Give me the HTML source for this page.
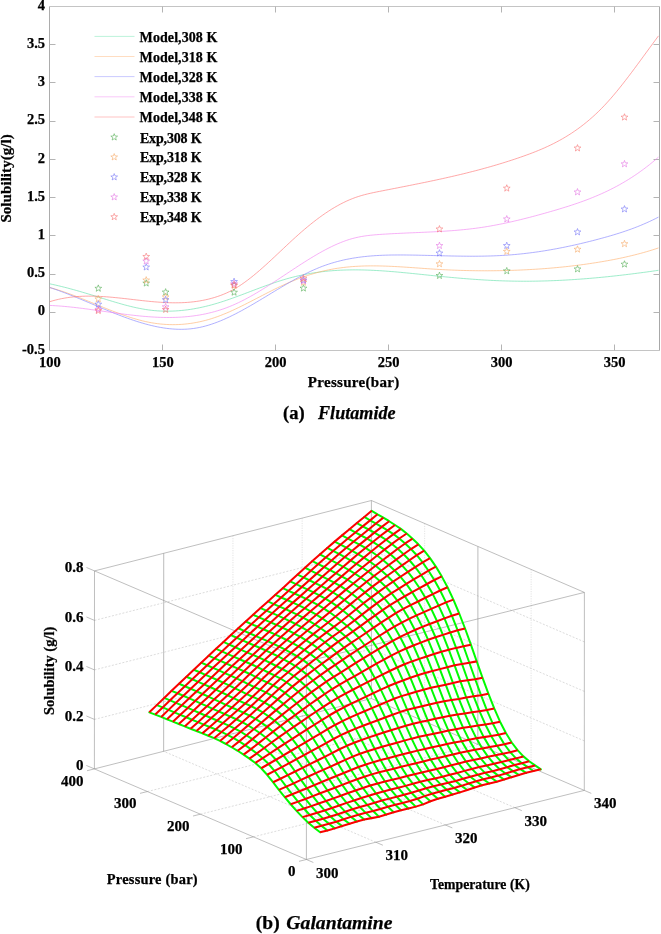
<!DOCTYPE html>
<html lang="en"><head><meta charset="utf-8"><title>Solubility of Flutamide and Galantamine</title>
<style>html,body{margin:0;padding:0;background:#fff}body{width:661px;height:934px;overflow:hidden}svg{display:block}text{font-kerning:normal;stroke:#000;stroke-width:0.25px;paint-order:stroke fill}</style></head><body>
<svg width="661" height="934" viewBox="0 0 661 934">
<rect width="661" height="934" fill="#fff"/>
<g id="panel-a">
<path d="M49.5 6.5H659.5" stroke="#c4c4c4" stroke-width="1" fill="none"/>
<path d="M49.5 350.5H659.5" stroke="#c4c4c4" stroke-width="1" fill="none"/>
<path d="M659.5 6.5V350.5" stroke="#a8a8a8" stroke-width="1" fill="none"/>
<path d="M49.5 6.5V350.5" stroke="#acacac" stroke-width="1" fill="none"/>
<path d="M162.5 350.5v-6M162.5 6.5v6M275.5 350.5v-6M275.5 6.5v6M388.5 350.5v-6M388.5 6.5v6M501.5 350.5v-6M501.5 6.5v6M614.5 350.5v-6M614.5 6.5v6M49.5 312.5h6M659.5 312.5h-6M49.5 274.5h6M659.5 274.5h-6M49.5 235.5h6M659.5 235.5h-6M49.5 197.5h6M659.5 197.5h-6M49.5 159.5h6M659.5 159.5h-6M49.5 121.5h6M659.5 121.5h-6M49.5 82.5h6M659.5 82.5h-6M49.5 44.5h6M659.5 44.5h-6" stroke="#b4b4b4" stroke-width="1" fill="none"/>
<g font-family='"Liberation Serif", "DejaVu Serif", serif' font-weight="bold" font-size="14.5" fill="#000">
<text x="49.8" y="367.2" text-anchor="middle">100</text>
<text x="162.76" y="367.2" text-anchor="middle">150</text>
<text x="275.73" y="367.2" text-anchor="middle">200</text>
<text x="388.69" y="367.2" text-anchor="middle">250</text>
<text x="501.65" y="367.2" text-anchor="middle">300</text>
<text x="614.61" y="367.2" text-anchor="middle">350</text>
<text x="45" y="353.7" text-anchor="end">-0.5</text>
<text x="45" y="315.48" text-anchor="end">0</text>
<text x="45" y="277.26" text-anchor="end">0.5</text>
<text x="45" y="239.03" text-anchor="end">1</text>
<text x="45" y="200.81" text-anchor="end">1.5</text>
<text x="45" y="162.59" text-anchor="end">2</text>
<text x="45" y="124.37" text-anchor="end">2.5</text>
<text x="45" y="86.14" text-anchor="end">3</text>
<text x="45" y="47.92" text-anchor="end">3.5</text>
<text x="45" y="9.7" text-anchor="end">4</text>
</g>
<text x="353.5" y="386.6" text-anchor="middle" font-family='"Liberation Serif", "DejaVu Serif", serif' font-weight="bold" font-size="15" textLength="91.5" lengthAdjust="spacing">Pressure(bar)</text>
<text transform="translate(11.4 178.4) rotate(-90)" text-anchor="middle" font-family='"Liberation Serif", "DejaVu Serif", serif' font-weight="bold" font-size="15" textLength="88.4" lengthAdjust="spacing">Solubility(g/l)</text>
<text x="283" y="418.8" font-family='"Liberation Serif", "DejaVu Serif", serif' font-weight="bold" font-size="18.6" xml:space="preserve">(a)<tspan x="318" font-style="italic" textLength="77.6" lengthAdjust="spacingAndGlyphs">Flutamide</tspan></text>
<clipPath id="clipA"><rect x="49.5" y="6.5" width="610.0" height="344.0"/></clipPath>
<g clip-path="url(#clipA)" fill="none" stroke-width="0.85" stroke-opacity="0.72">
<path d="M49.5 283.77L52.5 284.41L55.5 285.08L58.5 285.78L61.5 286.5L64.5 287.25L67.5 288.03L70.5 288.83L73.5 289.65L76.5 290.49L79.5 291.35L82.5 292.22L85.5 293.11L88.5 294.01L91.5 294.92L94.5 295.84L97.5 296.76L100.5 297.69L103.5 298.63L106.5 299.56L109.5 300.48L112.5 301.39L115.5 302.29L118.5 303.17L121.5 304.02L124.5 304.85L127.5 305.64L130.5 306.4L133.5 307.11L136.5 307.78L139.5 308.4L142.5 308.96L145.5 309.47L148.5 309.92L151.5 310.3L154.5 310.61L157.5 310.85L160.5 311.02L163.5 311.13L166.5 311.18L169.5 311.16L172.5 311.08L175.5 310.94L178.5 310.74L181.5 310.48L184.5 310.17L187.5 309.79L190.5 309.36L193.5 308.88L196.5 308.34L199.5 307.75L202.5 307.1L205.5 306.41L208.5 305.67L211.5 304.88L214.5 304.04L217.5 303.15L220.5 302.23L223.5 301.26L226.5 300.26L229.5 299.22L232.5 298.16L235.5 297.08L238.5 295.98L241.5 294.86L244.5 293.73L247.5 292.59L250.5 291.45L253.5 290.31L256.5 289.17L259.5 288.04L262.5 286.93L265.5 285.82L268.5 284.74L271.5 283.69L274.5 282.65L277.5 281.66L280.5 280.69L283.5 279.77L286.5 278.89L289.5 278.05L292.5 277.26L295.5 276.51L298.5 275.81L301.5 275.15L304.5 274.53L307.5 273.95L310.5 273.41L313.5 272.92L316.5 272.46L319.5 272.05L322.5 271.67L325.5 271.33L328.5 271.03L331.5 270.77L334.5 270.54L337.5 270.35L340.5 270.19L343.5 270.07L346.5 269.97L349.5 269.91L352.5 269.87L355.5 269.87L358.5 269.89L361.5 269.93L364.5 270L367.5 270.1L370.5 270.21L373.5 270.35L376.5 270.5L379.5 270.68L382.5 270.87L385.5 271.08L388.5 271.3L391.5 271.54L394.5 271.79L397.5 272.05L400.5 272.33L403.5 272.61L406.5 272.9L409.5 273.2L412.5 273.5L415.5 273.81L418.5 274.12L421.5 274.43L424.5 274.74L427.5 275.06L430.5 275.37L433.5 275.68L436.5 275.99L439.5 276.29L442.5 276.59L445.5 276.88L448.5 277.17L451.5 277.45L454.5 277.72L457.5 277.99L460.5 278.25L463.5 278.5L466.5 278.74L469.5 278.97L472.5 279.2L475.5 279.41L478.5 279.62L481.5 279.81L484.5 280L487.5 280.17L490.5 280.33L493.5 280.48L496.5 280.62L499.5 280.74L502.5 280.85L505.5 280.95L508.5 281.03L511.5 281.1L514.5 281.15L517.5 281.19L520.5 281.22L523.5 281.23L526.5 281.23L529.5 281.22L532.5 281.19L535.5 281.15L538.5 281.1L541.5 281.03L544.5 280.96L547.5 280.86L550.5 280.76L553.5 280.65L556.5 280.52L559.5 280.38L562.5 280.23L565.5 280.07L568.5 279.9L571.5 279.71L574.5 279.52L577.5 279.31L580.5 279.1L583.5 278.87L586.5 278.63L589.5 278.39L592.5 278.13L595.5 277.86L598.5 277.59L601.5 277.3L604.5 277.01L607.5 276.71L610.5 276.39L613.5 276.07L616.5 275.74L619.5 275.4L622.5 275.06L625.5 274.7L628.5 274.34L631.5 273.97L634.5 273.59L637.5 273.2L640.5 272.81L643.5 272.41L646.5 272L649.5 271.59L652.5 271.17L655.5 270.74L658.5 270.31" stroke="#5fe0a8"/>
<path d="M49.5 287.48L52.5 288.3L55.5 289.17L58.5 290.09L61.5 291.06L64.5 292.07L67.5 293.13L70.5 294.22L73.5 295.34L76.5 296.49L79.5 297.66L82.5 298.86L85.5 300.07L88.5 301.29L91.5 302.52L94.5 303.75L97.5 304.99L100.5 306.22L103.5 307.44L106.5 308.65L109.5 309.85L112.5 311.03L115.5 312.18L118.5 313.3L121.5 314.4L124.5 315.46L127.5 316.48L130.5 317.46L133.5 318.39L136.5 319.26L139.5 320.09L142.5 320.85L145.5 321.55L148.5 322.19L151.5 322.75L154.5 323.24L157.5 323.66L160.5 324L163.5 324.28L166.5 324.48L169.5 324.6L172.5 324.65L175.5 324.63L178.5 324.54L181.5 324.37L184.5 324.13L187.5 323.81L190.5 323.43L193.5 322.96L196.5 322.43L199.5 321.82L202.5 321.14L205.5 320.38L208.5 319.55L211.5 318.65L214.5 317.67L217.5 316.62L220.5 315.5L223.5 314.31L226.5 313.07L229.5 311.77L232.5 310.42L235.5 309.03L238.5 307.6L241.5 306.13L244.5 304.64L247.5 303.12L250.5 301.59L253.5 300.04L256.5 298.48L259.5 296.93L262.5 295.37L265.5 293.82L268.5 292.29L271.5 290.77L274.5 289.27L277.5 287.8L280.5 286.37L283.5 284.97L286.5 283.62L289.5 282.32L292.5 281.06L295.5 279.85L298.5 278.68L301.5 277.57L304.5 276.51L307.5 275.49L310.5 274.53L313.5 273.62L316.5 272.77L319.5 271.96L322.5 271.21L325.5 270.52L328.5 269.88L331.5 269.3L334.5 268.76L337.5 268.28L340.5 267.86L343.5 267.47L346.5 267.14L349.5 266.85L352.5 266.6L355.5 266.39L358.5 266.22L361.5 266.08L364.5 265.98L367.5 265.92L370.5 265.88L373.5 265.88L376.5 265.9L379.5 265.94L382.5 266.02L385.5 266.11L388.5 266.22L391.5 266.35L394.5 266.5L397.5 266.67L400.5 266.84L403.5 267.03L406.5 267.22L409.5 267.43L412.5 267.64L415.5 267.85L418.5 268.06L421.5 268.28L424.5 268.49L427.5 268.7L430.5 268.9L433.5 269.1L436.5 269.28L439.5 269.46L442.5 269.62L445.5 269.77L448.5 269.92L451.5 270.05L454.5 270.17L457.5 270.28L460.5 270.38L463.5 270.46L466.5 270.54L469.5 270.61L472.5 270.66L475.5 270.71L478.5 270.74L481.5 270.76L484.5 270.77L487.5 270.77L490.5 270.76L493.5 270.74L496.5 270.7L499.5 270.66L502.5 270.6L505.5 270.54L508.5 270.46L511.5 270.37L514.5 270.27L517.5 270.16L520.5 270.04L523.5 269.9L526.5 269.75L529.5 269.59L532.5 269.42L535.5 269.24L538.5 269.04L541.5 268.83L544.5 268.61L547.5 268.38L550.5 268.13L553.5 267.87L556.5 267.59L559.5 267.31L562.5 267L565.5 266.69L568.5 266.36L571.5 266.01L574.5 265.65L577.5 265.28L580.5 264.89L583.5 264.49L586.5 264.07L589.5 263.63L592.5 263.18L595.5 262.72L598.5 262.24L601.5 261.74L604.5 261.23L607.5 260.7L610.5 260.15L613.5 259.58L616.5 258.99L619.5 258.38L622.5 257.74L625.5 257.08L628.5 256.39L631.5 255.68L634.5 254.94L637.5 254.18L640.5 253.38L643.5 252.55L646.5 251.69L649.5 250.8L652.5 249.87L655.5 248.91L658.5 247.91" stroke="#ffae6b"/>
<path d="M49.5 287.42L52.5 288.41L55.5 289.44L58.5 290.51L61.5 291.61L64.5 292.73L67.5 293.89L70.5 295.07L73.5 296.27L76.5 297.49L79.5 298.72L82.5 299.97L85.5 301.23L88.5 302.49L91.5 303.76L94.5 305.03L97.5 306.29L100.5 307.56L103.5 308.81L106.5 310.06L109.5 311.29L112.5 312.5L115.5 313.7L118.5 314.87L121.5 316.02L124.5 317.15L127.5 318.24L130.5 319.3L133.5 320.32L136.5 321.3L139.5 322.25L142.5 323.14L145.5 323.99L148.5 324.79L151.5 325.54L154.5 326.23L157.5 326.86L160.5 327.42L163.5 327.92L166.5 328.35L169.5 328.7L172.5 328.98L175.5 329.18L178.5 329.29L181.5 329.32L184.5 329.26L187.5 329.1L190.5 328.84L193.5 328.48L196.5 328.02L199.5 327.46L202.5 326.78L205.5 326.02L208.5 325.15L211.5 324.2L214.5 323.16L217.5 322.04L220.5 320.85L223.5 319.58L226.5 318.24L229.5 316.85L232.5 315.39L235.5 313.88L238.5 312.32L241.5 310.71L244.5 309.06L247.5 307.38L250.5 305.66L253.5 303.92L256.5 302.15L259.5 300.36L262.5 298.56L265.5 296.75L268.5 294.93L271.5 293.12L274.5 291.3L277.5 289.49L280.5 287.7L283.5 285.92L286.5 284.16L289.5 282.42L292.5 280.72L295.5 279.05L298.5 277.42L301.5 275.83L304.5 274.29L307.5 272.8L310.5 271.37L313.5 269.99L316.5 268.69L319.5 267.45L322.5 266.28L325.5 265.19L328.5 264.17L331.5 263.21L334.5 262.33L337.5 261.5L340.5 260.74L343.5 260.03L346.5 259.39L349.5 258.8L352.5 258.26L355.5 257.77L358.5 257.33L361.5 256.93L364.5 256.58L367.5 256.27L370.5 256L373.5 255.77L376.5 255.57L379.5 255.41L382.5 255.27L385.5 255.16L388.5 255.08L391.5 255.02L394.5 254.99L397.5 254.97L400.5 254.97L403.5 254.98L406.5 255.01L409.5 255.05L412.5 255.09L415.5 255.14L418.5 255.2L421.5 255.27L424.5 255.34L427.5 255.41L430.5 255.48L433.5 255.56L436.5 255.63L439.5 255.71L442.5 255.78L445.5 255.85L448.5 255.92L451.5 255.99L454.5 256.04L457.5 256.1L460.5 256.14L463.5 256.18L466.5 256.2L469.5 256.22L472.5 256.22L475.5 256.22L478.5 256.2L481.5 256.16L484.5 256.11L487.5 256.04L490.5 255.96L493.5 255.86L496.5 255.74L499.5 255.6L502.5 255.43L505.5 255.25L508.5 255.04L511.5 254.81L514.5 254.56L517.5 254.28L520.5 253.98L523.5 253.66L526.5 253.31L529.5 252.95L532.5 252.56L535.5 252.15L538.5 251.72L541.5 251.27L544.5 250.8L547.5 250.3L550.5 249.79L553.5 249.26L556.5 248.71L559.5 248.14L562.5 247.55L565.5 246.94L568.5 246.31L571.5 245.67L574.5 245.01L577.5 244.33L580.5 243.64L583.5 242.92L586.5 242.19L589.5 241.45L592.5 240.69L595.5 239.91L598.5 239.12L601.5 238.31L604.5 237.49L607.5 236.65L610.5 235.78L613.5 234.9L616.5 233.98L619.5 233.04L622.5 232.07L625.5 231.06L628.5 230.02L631.5 228.94L634.5 227.82L637.5 226.65L640.5 225.44L643.5 224.18L646.5 222.87L649.5 221.51L652.5 220.09L655.5 218.61L658.5 217.07" stroke="#7f7fff"/>
<path d="M49.5 305.42L52.5 305.56L55.5 305.74L58.5 305.94L61.5 306.17L64.5 306.43L67.5 306.71L70.5 307.01L73.5 307.34L76.5 307.68L79.5 308.04L82.5 308.42L85.5 308.8L88.5 309.2L91.5 309.61L94.5 310.03L97.5 310.45L100.5 310.88L103.5 311.31L106.5 311.73L109.5 312.16L112.5 312.58L115.5 313L118.5 313.41L121.5 313.81L124.5 314.21L127.5 314.58L130.5 314.95L133.5 315.29L136.5 315.62L139.5 315.93L142.5 316.22L145.5 316.48L148.5 316.71L151.5 316.92L154.5 317.1L157.5 317.25L160.5 317.37L163.5 317.45L166.5 317.49L169.5 317.49L172.5 317.46L175.5 317.38L178.5 317.25L181.5 317.09L184.5 316.87L187.5 316.6L190.5 316.28L193.5 315.91L196.5 315.48L199.5 315L202.5 314.45L205.5 313.85L208.5 313.18L211.5 312.45L214.5 311.65L217.5 310.78L220.5 309.84L223.5 308.83L226.5 307.75L229.5 306.59L232.5 305.35L235.5 304.03L238.5 302.64L241.5 301.18L244.5 299.65L247.5 298.06L250.5 296.41L253.5 294.71L256.5 292.97L259.5 291.17L262.5 289.34L265.5 287.47L268.5 285.57L271.5 283.65L274.5 281.7L277.5 279.74L280.5 277.76L283.5 275.78L286.5 273.79L289.5 271.81L292.5 269.82L295.5 267.85L298.5 265.89L301.5 263.95L304.5 262.04L307.5 260.15L310.5 258.29L313.5 256.48L316.5 254.7L319.5 252.97L322.5 251.3L325.5 249.68L328.5 248.13L331.5 246.64L334.5 245.22L337.5 243.89L340.5 242.63L343.5 241.46L346.5 240.38L349.5 239.4L352.5 238.52L355.5 237.75L358.5 237.08L361.5 236.51L364.5 236.02L367.5 235.6L370.5 235.25L373.5 234.96L376.5 234.7L379.5 234.48L382.5 234.27L385.5 234.09L388.5 233.91L391.5 233.74L394.5 233.59L397.5 233.44L400.5 233.3L403.5 233.16L406.5 233.03L409.5 232.9L412.5 232.77L415.5 232.64L418.5 232.52L421.5 232.39L424.5 232.25L427.5 232.12L430.5 231.97L433.5 231.82L436.5 231.67L439.5 231.5L442.5 231.32L445.5 231.13L448.5 230.92L451.5 230.71L454.5 230.47L457.5 230.22L460.5 229.95L463.5 229.66L466.5 229.35L469.5 229.02L472.5 228.66L475.5 228.29L478.5 227.88L481.5 227.45L484.5 226.99L487.5 226.5L490.5 225.99L493.5 225.45L496.5 224.89L499.5 224.31L502.5 223.7L505.5 223.07L508.5 222.42L511.5 221.75L514.5 221.06L517.5 220.36L520.5 219.63L523.5 218.89L526.5 218.13L529.5 217.36L532.5 216.57L535.5 215.77L538.5 214.95L541.5 214.13L544.5 213.29L547.5 212.44L550.5 211.58L553.5 210.71L556.5 209.84L559.5 208.94L562.5 208.03L565.5 207.1L568.5 206.16L571.5 205.18L574.5 204.19L577.5 203.17L580.5 202.11L583.5 201.03L586.5 199.91L589.5 198.75L592.5 197.56L595.5 196.33L598.5 195.05L601.5 193.73L604.5 192.36L607.5 190.94L610.5 189.47L613.5 187.95L616.5 186.37L619.5 184.73L622.5 183.03L625.5 181.27L628.5 179.44L631.5 177.54L634.5 175.58L637.5 173.54L640.5 171.43L643.5 169.25L646.5 166.98L649.5 164.64L652.5 162.21L655.5 159.69L658.5 157.09" stroke="#f27ff2"/>
<path d="M49.5 301.76L52.5 300.86L55.5 300.05L58.5 299.32L61.5 298.68L64.5 298.13L67.5 297.64L70.5 297.23L73.5 296.9L76.5 296.62L79.5 296.41L82.5 296.27L85.5 296.17L88.5 296.13L91.5 296.14L94.5 296.2L97.5 296.3L100.5 296.44L103.5 296.61L106.5 296.82L109.5 297.06L112.5 297.32L115.5 297.61L118.5 297.91L121.5 298.23L124.5 298.56L127.5 298.9L130.5 299.25L133.5 299.6L136.5 299.95L139.5 300.29L142.5 300.63L145.5 300.95L148.5 301.26L151.5 301.55L154.5 301.82L157.5 302.06L160.5 302.28L163.5 302.46L166.5 302.61L169.5 302.72L172.5 302.79L175.5 302.81L178.5 302.78L181.5 302.71L184.5 302.57L187.5 302.38L190.5 302.12L193.5 301.81L196.5 301.42L199.5 300.96L202.5 300.42L205.5 299.81L208.5 299.12L211.5 298.34L214.5 297.47L217.5 296.51L220.5 295.46L223.5 294.29L226.5 293L229.5 291.59L232.5 290.04L235.5 288.34L238.5 286.5L241.5 284.52L244.5 282.43L247.5 280.23L250.5 277.92L253.5 275.52L256.5 273.03L259.5 270.47L262.5 267.84L265.5 265.16L268.5 262.43L271.5 259.66L274.5 256.86L277.5 254.04L280.5 251.21L283.5 248.38L286.5 245.56L289.5 242.76L292.5 239.98L295.5 237.24L298.5 234.54L301.5 231.9L304.5 229.32L307.5 226.8L310.5 224.35L313.5 221.97L316.5 219.65L319.5 217.42L322.5 215.26L325.5 213.18L328.5 211.19L331.5 209.28L334.5 207.46L337.5 205.73L340.5 204.1L343.5 202.57L346.5 201.13L349.5 199.8L352.5 198.58L355.5 197.46L358.5 196.46L361.5 195.54L364.5 194.71L367.5 193.95L370.5 193.25L373.5 192.59L376.5 191.97L379.5 191.38L382.5 190.79L385.5 190.2L388.5 189.61L391.5 189.03L394.5 188.44L397.5 187.85L400.5 187.26L403.5 186.67L406.5 186.08L409.5 185.48L412.5 184.88L415.5 184.28L418.5 183.67L421.5 183.06L424.5 182.45L427.5 181.82L430.5 181.2L433.5 180.56L436.5 179.92L439.5 179.27L442.5 178.61L445.5 177.95L448.5 177.27L451.5 176.59L454.5 175.89L457.5 175.19L460.5 174.47L463.5 173.75L466.5 173.01L469.5 172.26L472.5 171.49L475.5 170.72L478.5 169.93L481.5 169.13L484.5 168.31L487.5 167.47L490.5 166.62L493.5 165.76L496.5 164.88L499.5 163.98L502.5 163.07L505.5 162.13L508.5 161.18L511.5 160.21L514.5 159.22L517.5 158.21L520.5 157.18L523.5 156.13L526.5 155.05L529.5 153.95L532.5 152.81L535.5 151.63L538.5 150.42L541.5 149.16L544.5 147.85L547.5 146.48L550.5 145.07L553.5 143.59L556.5 142.04L559.5 140.43L562.5 138.74L565.5 136.98L568.5 135.14L571.5 133.22L574.5 131.2L577.5 129.1L580.5 126.9L583.5 124.6L586.5 122.19L589.5 119.68L592.5 117.06L595.5 114.32L598.5 111.46L601.5 108.47L604.5 105.36L607.5 102.12L610.5 98.76L613.5 95.28L616.5 91.69L619.5 88.01L622.5 84.24L625.5 80.4L628.5 76.49L631.5 72.52L634.5 68.51L637.5 64.45L640.5 60.38L643.5 56.28L646.5 52.17L649.5 48.07L652.5 43.98L655.5 39.91L658.5 35.87" stroke="#ff7070"/>
</g>
<g fill="none" stroke-width="0.7" stroke-opacity="0.78" stroke-linejoin="miter">
<path d="M98.3 284.88L99.18 287.22L101.68 287.33L99.72 288.89L100.39 291.3L98.3 289.92L96.21 291.3L96.88 288.89L94.92 287.33L97.42 287.22ZM146.2 279.68L147.07 282.02L149.57 282.13L147.61 283.69L148.28 286.1L146.2 284.72L144.11 286.1L144.78 283.69L142.82 282.13L145.32 282.02ZM165.63 288.62L166.5 290.97L169 291.08L167.04 292.63L167.71 295.04L165.63 293.66L163.54 295.04L164.21 292.63L162.25 291.08L164.75 290.97ZM234.08 288.85L234.96 291.2L237.46 291.31L235.5 292.86L236.17 295.27L234.08 293.89L231.99 295.27L232.66 292.86L230.71 291.31L233.21 291.2ZM303.44 284.72L304.32 287.07L306.82 287.18L304.86 288.73L305.53 291.15L303.44 289.77L301.35 291.15L302.02 288.73L300.06 287.18L302.56 287.07ZM439.45 272.11L440.32 274.45L442.82 274.56L440.87 276.12L441.53 278.53L439.45 277.15L437.36 278.53L438.03 276.12L436.07 274.56L438.57 274.45ZM506.77 267.45L507.65 269.79L510.15 269.9L508.19 271.46L508.86 273.87L506.77 272.49L504.69 273.87L505.36 271.46L503.4 269.9L505.9 269.79ZM577.49 265.54L578.37 267.88L580.87 267.99L578.91 269.55L579.58 271.96L577.49 270.58L575.4 271.96L576.07 269.55L574.11 267.99L576.61 267.88ZM624.48 260.72L625.36 263.06L627.86 263.17L625.9 264.73L626.57 267.14L624.48 265.76L622.39 267.14L623.06 264.73L621.11 263.17L623.61 263.06Z" stroke="#4aa84a"/>
<path d="M98.3 295.43L99.18 297.77L101.68 297.88L99.72 299.44L100.39 301.85L98.3 300.47L96.21 301.85L96.88 299.44L94.92 297.88L97.42 297.77ZM146.2 276.62L147.07 278.96L149.57 279.07L147.61 280.63L148.28 283.04L146.2 281.66L144.11 283.04L144.78 280.63L142.82 279.07L145.32 278.96ZM165.63 293.44L166.5 295.78L169 295.89L167.04 297.45L167.71 299.86L165.63 298.48L163.54 299.86L164.21 297.45L162.25 295.89L164.75 295.78ZM234.08 281.97L234.96 284.32L237.46 284.43L235.5 285.98L236.17 288.39L234.08 287.01L231.99 288.39L232.66 285.98L230.71 284.43L233.21 284.32ZM303.44 278.91L304.32 281.26L306.82 281.37L304.86 282.93L305.53 285.34L303.44 283.96L301.35 285.34L302.02 282.93L300.06 281.37L302.56 281.26ZM439.45 260.41L440.32 262.76L442.82 262.87L440.87 264.43L441.53 266.84L439.45 265.46L437.36 266.84L438.03 264.43L436.07 262.87L438.57 262.76ZM506.77 247.95L507.65 250.3L510.15 250.41L508.19 251.97L508.86 254.38L506.77 253L504.69 254.38L505.36 251.97L503.4 250.41L505.9 250.3ZM577.49 245.81L578.37 248.16L580.87 248.27L578.91 249.82L579.58 252.24L577.49 250.86L575.4 252.24L576.07 249.82L574.11 248.27L576.61 248.16ZM624.48 240.31L625.36 242.65L627.86 242.76L625.9 244.32L626.57 246.73L624.48 245.35L622.39 246.73L623.06 244.32L621.11 242.76L623.61 242.65Z" stroke="#f5a35c"/>
<path d="M98.3 300.78L99.18 303.12L101.68 303.23L99.72 304.79L100.39 307.2L98.3 305.82L96.21 307.2L96.88 304.79L94.92 303.23L97.42 303.12ZM146.2 263.63L147.07 265.97L149.57 266.08L147.61 267.64L148.28 270.05L146.2 268.67L144.11 270.05L144.78 267.64L142.82 266.08L145.32 265.97ZM165.63 296.27L166.5 298.61L169 298.72L167.04 300.28L167.71 302.69L165.63 301.31L163.54 302.69L164.21 300.28L162.25 298.72L164.75 298.61ZM234.08 278.15L234.96 280.49L237.46 280.6L235.5 282.16L236.17 284.57L234.08 283.19L231.99 284.57L232.66 282.16L230.71 280.6L233.21 280.49ZM303.44 276.62L304.32 278.96L306.82 279.07L304.86 280.63L305.53 283.04L303.44 281.66L301.35 283.04L302.02 280.63L300.06 279.07L302.56 278.96ZM439.45 249.64L440.32 251.98L442.82 252.09L440.87 253.65L441.53 256.06L439.45 254.68L437.36 256.06L438.03 253.65L436.07 252.09L438.57 251.98ZM506.77 242.14L507.65 244.49L510.15 244.6L508.19 246.16L508.86 248.57L506.77 247.19L504.69 248.57L505.36 246.16L503.4 244.6L505.9 244.49ZM577.49 228.54L578.37 230.88L580.87 230.99L578.91 232.55L579.58 234.96L577.49 233.58L575.4 234.96L576.07 232.55L574.11 230.99L576.61 230.88ZM624.48 205.6L625.36 207.95L627.86 208.06L625.9 209.61L626.57 212.03L624.48 210.65L622.39 212.03L623.06 209.61L621.11 208.06L623.61 207.95Z" stroke="#6c6cf5"/>
<path d="M98.3 306.05L99.18 308.4L101.68 308.51L99.72 310.06L100.39 312.47L98.3 311.09L96.21 312.47L96.88 310.06L94.92 308.51L97.42 308.4ZM146.2 257.66L147.07 260.01L149.57 260.12L147.61 261.67L148.28 264.08L146.2 262.7L144.11 264.08L144.78 261.67L142.82 260.12L145.32 260.01ZM165.63 303.38L166.5 305.72L169 305.83L167.04 307.39L167.71 309.8L165.63 308.42L163.54 309.8L164.21 307.39L162.25 305.83L164.75 305.72ZM234.08 280.29L234.96 282.63L237.46 282.74L235.5 284.3L236.17 286.71L234.08 285.33L231.99 286.71L232.66 284.3L230.71 282.74L233.21 282.63ZM303.44 277.39L304.32 279.73L306.82 279.84L304.86 281.4L305.53 283.81L303.44 282.43L301.35 283.81L302.02 281.4L300.06 279.84L302.56 279.73ZM439.45 242.14L440.32 244.49L442.82 244.6L440.87 246.16L441.53 248.57L439.45 247.19L437.36 248.57L438.03 246.16L436.07 244.6L438.57 244.49ZM506.77 215.54L507.65 217.89L510.15 217.99L508.19 219.55L508.86 221.96L506.77 220.58L504.69 221.96L505.36 219.55L503.4 217.99L505.9 217.89ZM577.49 188.56L578.37 190.9L580.87 191.01L578.91 192.57L579.58 194.98L577.49 193.6L575.4 194.98L576.07 192.57L574.11 191.01L576.61 190.9ZM624.48 160.43L625.36 162.77L627.86 162.88L625.9 164.44L626.57 166.85L624.48 165.47L622.39 166.85L623.06 164.44L621.11 162.88L623.61 162.77Z" stroke="#e26ae2"/>
<path d="M98.3 307.2L99.18 309.54L101.68 309.65L99.72 311.21L100.39 313.62L98.3 312.24L96.21 313.62L96.88 311.21L94.92 309.65L97.42 309.54ZM146.2 253.08L147.07 255.42L149.57 255.53L147.61 257.09L148.28 259.5L146.2 258.12L144.11 259.5L144.78 257.09L142.82 255.53L145.32 255.42ZM165.63 306.05L166.5 308.4L169 308.51L167.04 310.06L167.71 312.47L165.63 311.09L163.54 312.47L164.21 310.06L162.25 308.51L164.75 308.4ZM234.08 281.59L234.96 283.93L237.46 284.04L235.5 285.6L236.17 288.01L234.08 286.63L231.99 288.01L232.66 285.6L230.71 284.04L233.21 283.93ZM303.44 274.71L304.32 277.05L306.82 277.16L304.86 278.72L305.53 281.13L303.44 279.75L301.35 281.13L302.02 278.72L300.06 277.16L302.56 277.05ZM439.45 225.56L440.32 227.9L442.82 228.01L440.87 229.57L441.53 231.98L439.45 230.6L437.36 231.98L438.03 229.57L436.07 228.01L438.57 227.9ZM506.77 184.73L507.65 187.08L510.15 187.19L508.19 188.75L508.86 191.16L506.77 189.78L504.69 191.16L505.36 188.75L503.4 187.19L505.9 187.08ZM577.49 144.6L578.37 146.95L580.87 147.05L578.91 148.61L579.58 151.02L577.49 149.64L575.4 151.02L576.07 148.61L574.11 147.05L576.61 146.95ZM624.48 113.72L625.36 116.06L627.86 116.17L625.9 117.73L626.57 120.14L624.48 118.76L622.39 120.14L623.06 117.73L621.11 116.17L623.61 116.06Z" stroke="#f56a6a"/>
</g>
<g fill="none" stroke-width="1" stroke-opacity="0.42">
<path d="M94.5 36.4H134.5" stroke="#5fe0a8"/>
<path d="M94.5 56.5H134.5" stroke="#ffae6b"/>
<path d="M94.5 76.6H134.5" stroke="#7f7fff"/>
<path d="M94.5 96.8H134.5" stroke="#f27ff2"/>
<path d="M94.5 117.0H134.5" stroke="#ff7070"/>
</g>
<g fill="none" stroke-width="0.7" stroke-opacity="0.78">
<path d="M114.2 133.65L115.08 135.99L117.58 136.1L115.62 137.66L116.29 140.07L114.2 138.69L112.11 140.07L112.78 137.66L110.82 136.1L113.32 135.99Z" stroke="#4aa84a"/>
<path d="M114.2 153.55L115.08 155.89L117.58 156L115.62 157.56L116.29 159.97L114.2 158.59L112.11 159.97L112.78 157.56L110.82 156L113.32 155.89Z" stroke="#f5a35c"/>
<path d="M114.2 173.55L115.08 175.89L117.58 176L115.62 177.56L116.29 179.97L114.2 178.59L112.11 179.97L112.78 177.56L110.82 176L113.32 175.89Z" stroke="#6c6cf5"/>
<path d="M114.2 193.55L115.08 195.89L117.58 196L115.62 197.56L116.29 199.97L114.2 198.59L112.11 199.97L112.78 197.56L110.82 196L113.32 195.89Z" stroke="#e26ae2"/>
<path d="M114.2 213.35L115.08 215.69L117.58 215.8L115.62 217.36L116.29 219.77L114.2 218.39L112.11 219.77L112.78 217.36L110.82 215.8L113.32 215.69Z" stroke="#f56a6a"/>
</g>
<g font-family='"Liberation Serif", "DejaVu Serif", serif' font-weight="bold" font-size="14" fill="#000">
<text x="139.6" y="41.7" textLength="77.8" lengthAdjust="spacing">Model,308 K</text>
<text x="139.6" y="61.8" textLength="77.8" lengthAdjust="spacing">Model,318 K</text>
<text x="139.6" y="81.9" textLength="77.8" lengthAdjust="spacing">Model,328 K</text>
<text x="139.6" y="102.1" textLength="77.8" lengthAdjust="spacing">Model,338 K</text>
<text x="139.6" y="122.3" textLength="77.8" lengthAdjust="spacing">Model,348 K</text>
<text x="139.9" y="142.5" textLength="61.8" lengthAdjust="spacing">Exp,308 K</text>
<text x="139.9" y="162.4" textLength="61.8" lengthAdjust="spacing">Exp,318 K</text>
<text x="139.9" y="182.4" textLength="61.8" lengthAdjust="spacing">Exp,328 K</text>
<text x="139.9" y="202.4" textLength="61.8" lengthAdjust="spacing">Exp,338 K</text>
<text x="139.9" y="222.2" textLength="61.8" lengthAdjust="spacing">Exp,348 K</text>
</g>
</g>
<g id="panel-b">
<path d="M94.43 719.4L371.4 649M584.32 740.9L371.4 649M375.88 842.23L163.65 751.3M253.4 836.85L531.07 767.42M94.45 669.9L371.4 599.5M584.35 691.4L371.4 599.5M445.35 824.95L232.9 733.7M200.4 814.2L477.85 744.45M94.47 620.4L371.4 550M584.38 641.9L371.4 550M514.82 807.67L302.15 716.1M147.4 791.55L424.62 721.48" stroke="#9c9c9c" stroke-width="0.6" stroke-dasharray="2 1.6" fill="none" stroke-opacity="0.6"/>
<path d="M531.07 767.42L531.15 569.42M232.9 733.7L232.95 535.7M302.15 716.1L302.17 518.1M424.62 721.48L424.65 523.48" stroke="#a8a8a8" stroke-width="0.6" stroke-dasharray="1.2 1.2" fill="none" stroke-opacity="0.55"/>
<path d="M163.65 751.3L163.72 553.3M477.85 744.45L477.9 546.45" stroke="#7c7c7c" stroke-width="0.7" fill="none" stroke-opacity="0.75"/>
<path d="M306.4 859.5L584.3 790.4M306.4 859.5L94.4 768.9M584.3 790.4L371.4 698.5M94.4 768.9L371.4 698.5M306.4 661.5L584.4 592.4M306.4 661.5L94.5 570.9M584.4 592.4L371.4 500.5M94.5 570.9L371.4 500.5M306.4 859.5L306.4 661.5M584.3 790.4L584.4 592.4M94.4 768.9L94.5 570.9M371.4 698.5L371.4 500.5M306.4 859.5L299.02 861.32M306.4 859.5L313.39 862.49M94.4 768.9L86.37 765.46M253.4 836.85L246.02 838.67M375.88 842.23L382.86 845.22M94.43 719.4L86.39 715.96M200.4 814.2L193.02 816.02M445.35 824.95L452.34 827.94M94.45 669.9L86.42 666.46M147.4 791.55L140.02 793.37M514.82 807.67L521.81 810.67M94.47 620.4L86.44 616.96M94.4 768.9L87.02 770.72M584.3 790.4L591.29 793.39M94.5 570.9L86.47 567.46" stroke="#8c8c8c" stroke-width="0.7" fill="none" stroke-opacity="0.8"/>
<path d="M320.1 832.28L314.21 827.75L308.32 822.78L302.44 817.14L296.55 810.88L290.66 804.25L284.77 797.23L278.88 789.91L273 782.21L267.11 774.76L261.22 768.25L255.33 762.96L249.44 758.67L243.56 754.57L237.67 750.78L231.78 747.26L225.89 744L220.01 740.95L214.12 738.17L208.23 735.73L202.34 733.36L196.45 731.04L190.57 728.74L184.68 726.41L178.79 724.05L172.9 721.68L167.01 719.31L161.13 716.93L155.24 714.58L149.35 712.34M327.46 830.42L321.57 825.86L315.69 820.76L309.8 814.97L303.92 808.54L298.03 801.63L292.14 794.32L286.26 786.68L280.37 778.76L274.48 770.96L268.6 763.99L262.71 758.19L256.83 753.42L250.94 749.14L245.05 745.08L239.17 741.36L233.28 737.94L227.4 734.8L221.51 731.97L215.62 729.41L209.74 726.97L203.85 724.56L197.96 722.17L192.08 719.74L186.19 717.28L180.31 714.81L174.42 712.34L168.53 709.87L162.65 707.43L156.76 705.11M334.82 828.37L328.94 823.81L323.05 818.65L317.17 812.73L311.28 806.1L305.4 798.92L299.51 791.29L293.63 783.32L287.75 775.17L281.86 767.16L275.98 759.76L270.09 753.37L264.21 748.01L258.32 743.36L252.44 739.13L246.55 735.29L240.67 731.74L234.79 728.55L228.9 725.67L223.02 723.04L217.13 720.52L211.25 718.03L205.36 715.53L199.48 713L193.6 710.45L187.71 707.9L181.83 705.35L175.94 702.81L170.06 700.32L164.17 697.93M342.18 826.09L336.3 821.65L330.41 816.47L324.53 810.41L318.65 803.59L312.77 796.14L306.88 788.21L301 779.93L295.12 771.49L289.24 763.19L283.35 755.38L277.47 748.41L271.59 742.54L265.71 737.49L259.82 733.03L253.94 729.02L248.06 725.38L242.18 722.17L236.29 719.27L230.41 716.6L224.53 714.02L218.65 711.44L212.76 708.84L206.88 706.21L201 703.58L195.12 700.96L189.23 698.36L183.35 695.79L177.47 693.26L171.58 690.83M349.54 823.8L343.66 819.35L337.78 814.19L331.9 807.99L326.02 800.99L320.14 793.33L314.26 785.12L308.37 776.54L302.49 767.8L296.61 759.19L290.73 751L284.85 743.58L278.97 737.17L273.09 731.67L267.21 726.88L261.33 722.67L255.45 718.95L249.57 715.7L243.69 712.76L237.8 710.09L231.92 707.47L226.04 704.8L220.16 702.09L214.28 699.37L208.4 696.67L202.52 694L196.64 691.37L190.76 688.78L184.88 686.25L179 683.79M356.9 821.57L351.02 816.9L345.14 811.66L339.26 805.43L333.38 798.35L327.5 790.5L321.63 782.05L315.75 773.19L309.87 764.14L303.99 755.2L298.11 746.68L292.23 738.88L286.35 731.97L280.47 725.97L274.59 720.8L268.71 716.35L262.84 712.48L256.96 709.09L251.08 706.13L245.2 703.5L239.32 700.86L233.44 698.09L227.56 695.26L221.68 692.45L215.8 689.71L209.92 687.02L204.05 684.39L198.17 681.79L192.29 679.24L186.41 676.75M364.26 819.53L358.38 814.67L352.51 809.21L346.63 802.88L340.75 795.7L334.87 787.67L329 779.02L323.12 769.87L317.24 760.48L311.36 751.2L305.49 742.35L299.61 734.19L293.73 726.87L287.86 720.43L281.98 714.86L276.1 710.12L270.22 705.95L264.35 702.37L258.47 699.36L252.59 696.74L246.72 694.09L240.84 691.22L234.96 688.29L229.08 685.44L223.21 682.7L217.33 680.03L211.45 677.4L205.57 674.8L199.7 672.24L193.82 669.71M371.62 818.13L365.74 812.85L359.87 807L353.99 800.42L348.12 793.03L342.24 784.85L336.37 776.03L330.49 766.58L324.62 756.8L318.74 747.15L312.87 737.97L306.99 729.47L301.11 721.79L295.24 714.98L289.36 709.05L283.49 703.91L277.61 699.38L271.74 695.55L265.86 692.38L259.99 689.66L254.11 687.01L248.24 684.14L242.36 681.17L236.48 678.34L230.61 675.66L224.73 673.05L218.86 670.44L212.98 667.84L207.11 665.25L201.23 662.69M378.98 816.71L373.11 811.08L367.23 804.89L361.36 798.04L355.49 790.44L349.61 782.07L343.74 773.01L337.86 763.26L331.99 753.05L326.12 743.04L320.24 733.55L314.37 724.74L308.5 716.74L302.62 709.59L296.75 703.28L290.87 697.75L285 692.9L279.13 688.76L273.25 685.36L267.38 682.51L261.51 679.79L255.63 676.93L249.76 673.98L243.89 671.24L238.01 668.66L232.14 666.1L226.26 663.53L220.39 660.92L214.52 658.31L208.64 655.71M386.34 814.6L380.47 809L374.6 802.73L368.72 795.74L362.85 787.94L356.98 779.32L351.11 769.93L345.24 759.82L339.36 749.26L333.49 738.97L327.62 729.17L321.75 720.06L315.88 711.74L310.01 704.26L304.13 697.62L298.26 691.77L292.39 686.65L286.52 682.25L280.65 678.57L274.77 675.6L268.9 672.77L263.03 669.87L257.16 666.98L251.29 664.27L245.41 661.76L239.54 659.23L233.67 656.66L227.8 654.05L221.93 651.42L216.06 648.8M393.7 812.31L387.83 806.81L381.96 800.6L376.09 793.53L370.22 785.57L364.35 776.72L358.48 767.02L352.61 756.61L346.74 745.82L340.87 735.16L335 724.97L329.13 715.51L323.26 706.86L317.39 699.06L311.52 692.12L305.65 686.01L299.78 680.67L293.91 676.07L288.04 672.22L282.17 669L276.3 666L270.43 663L264.56 660.12L258.69 657.43L252.82 654.91L246.95 652.39L241.08 649.83L235.21 647.22L229.34 644.58L223.47 641.94M401.06 810.26L395.19 804.84L389.32 798.62L383.46 791.49L377.59 783.42L371.72 774.37L365.85 764.42L359.98 753.77L354.11 742.73L348.25 731.72L342.38 721.1L336.51 711.25L330.64 702.18L324.77 694.02L318.9 686.81L313.03 680.45L307.17 674.89L301.3 670.1L295.43 666.02L289.56 662.53L283.69 659.33L277.82 656.23L271.96 653.32L266.09 650.6L260.22 648.03L254.35 645.52L248.48 642.98L242.62 640.39L236.75 637.75L230.88 635.1M408.42 808.47L402.55 803.01L396.69 796.72L390.82 789.59L384.95 781.48L379.09 772.3L373.22 762.14L367.35 751.25L361.49 739.94L355.62 728.61L349.75 717.63L343.89 707.28L338.02 697.73L332.15 689.19L326.29 681.71L320.42 675.1L314.56 669.27L308.69 664.23L302.82 659.91L296.96 656.16L291.09 652.76L285.22 649.57L279.36 646.59L273.49 643.81L267.62 641.17L261.76 638.62L255.89 636.09L250.02 633.54L244.16 630.92L238.29 628.28M415.78 806.63L409.92 801.06L404.05 794.79L398.19 787.76L392.32 779.72L386.46 770.45L380.59 760.1L374.73 748.96L368.86 737.39L363 725.73L357.13 714.37L351.27 703.58L345.4 693.59L339.54 684.64L333.67 676.89L327.81 669.94L321.94 663.77L316.08 658.45L310.21 653.9L304.35 649.94L298.48 646.37L292.62 643.07L286.76 639.98L280.89 637.09L275.03 634.35L269.16 631.74L263.3 629.21L257.43 626.68L251.57 624.1L245.7 621.49M423.14 804.39L417.28 798.79L411.41 792.7L405.55 785.88L399.69 778.01L393.83 768.69L387.96 758.18L382.1 746.82L376.24 734.96L370.37 722.98L364.51 711.24L358.65 700.07L352.78 689.74L346.92 680.46L341.06 672.29L335.2 664.87L329.33 658.32L323.47 652.74L317.61 648.02L311.74 643.9L305.88 640.17L300.02 636.73L294.15 633.51L288.29 630.48L282.43 627.63L276.57 624.95L270.7 622.4L264.84 619.89L258.98 617.36L253.11 614.75M430.5 801.28L424.64 796.14L418.78 790.43L412.92 783.85L407.06 776.07L401.19 766.84L395.33 756.28L389.47 744.74L383.61 732.6L377.75 720.26L371.89 708.16L366.03 696.63L360.17 685.96L354.3 676.28L348.44 667.6L342.58 659.79L336.72 652.91L330.86 647.13L325 642.29L319.14 638.05L313.28 634.16L307.41 630.54L301.55 627.16L295.69 624.01L289.83 621.06L283.97 618.3L278.11 615.71L272.25 613.2L266.39 610.68L260.52 608.06M437.86 798.8L432 793.75L426.14 788.26L420.28 781.84L414.42 774.15L408.56 764.96L402.7 754.36L396.84 742.67L390.98 730.26L385.13 717.54L379.27 705.05L373.41 693.17L367.55 682.14L361.69 672.06L355.83 662.96L349.97 654.81L344.11 647.67L338.25 641.69L332.39 636.79L326.53 632.4L320.67 628.29L314.81 624.46L308.95 620.91L303.09 617.63L297.23 614.59L291.37 611.78L285.51 609.14L279.66 606.6L273.8 604.05L267.94 601.43M445.22 796.65L439.36 791.73L433.5 786.34L427.65 780.03L421.79 772.43L415.93 763.18L410.07 752.47L404.22 740.63L398.36 727.95L392.5 714.8L386.64 701.9L380.79 689.69L374.93 678.32L369.07 667.86L363.21 658.4L357.36 650L351.5 642.69L345.64 636.56L339.78 631.49L333.92 626.87L328.07 622.48L322.21 618.41L316.35 614.69L310.49 611.3L304.64 608.18L298.78 605.31L292.92 602.62L287.06 600.03L281.21 597.47L275.35 594.82M452.58 794.57L446.72 789.86L440.87 784.61L435.01 778.4L429.16 770.86L423.3 761.44L417.44 750.62L411.59 738.63L405.73 725.65L399.88 712.1L394.02 698.82L388.17 686.31L382.31 674.57L376.45 663.72L370.6 653.91L364.74 645.25L358.89 637.75L353.03 631.4L347.17 626.02L341.32 621.19L335.46 616.54L329.61 612.31L323.75 608.46L317.9 604.96L312.04 601.78L306.18 598.85L300.33 596.11L294.47 593.47L288.62 590.86L282.76 588.15M459.94 792.39L454.09 787.97L448.23 782.87L442.38 776.67L436.52 769L430.67 759.62L424.82 748.88L418.96 736.83L413.11 723.66L407.25 709.83L401.4 696.11L395.55 683.25L389.69 670.98L383.84 659.64L377.98 649.46L372.13 640.49L366.27 632.73L360.42 626.07L354.57 620.33L348.71 615.2L342.86 610.45L337 606.14L331.15 602.2L325.3 598.61L319.44 595.37L313.59 592.39L307.73 589.59L301.88 586.87L296.03 584.16L290.17 581.35M467.3 789.96L461.45 785.86L455.6 780.96L449.74 774.81L443.89 767.15L438.04 757.91L432.19 747.27L426.33 735.26L420.48 722.03L414.63 708L408.78 693.95L402.92 680.45L397.07 667.5L391.22 655.64L385.37 645.07L379.52 635.76L373.66 627.66L367.81 620.67L361.96 614.59L356.11 609.21L350.25 604.35L344.4 599.94L338.55 595.9L332.7 592.23L326.84 588.97L320.99 585.95L315.14 583.06L309.29 580.24L303.44 577.43L297.58 574.53M474.66 787.43L468.81 783.43L462.96 778.83L457.11 772.9L451.26 765.33L445.41 756.2L439.56 745.66L433.71 733.75L427.86 720.54L422.01 706.26L416.15 691.8L410.3 677.72L404.45 664.26L398.6 651.86L392.75 640.85L386.9 631.13L381.05 622.65L375.2 615.31L369.35 608.93L363.5 603.32L357.65 598.29L351.8 593.76L345.95 589.63L340.1 585.89L334.25 582.63L328.4 579.55L322.55 576.54L316.7 573.62L310.85 570.71L305 567.74M482.02 785.34L476.17 781.25L470.32 776.67L464.47 770.87L458.63 763.46L452.78 754.45L446.93 744.03L441.08 732.15L435.23 718.85L429.38 704.41L423.53 689.67L417.68 675.25L411.84 661.41L405.99 648.53L400.14 636.95L394.29 626.72L388.44 617.79L382.59 610.1L376.74 603.44L370.89 597.58L365.05 592.38L359.2 587.7L353.35 583.49L347.5 579.73L341.65 576.38L335.8 573.17L329.95 570.04L324.1 567.01L318.26 564.04L312.41 561.02M489.38 783.49L483.53 779.32L477.69 774.67L471.84 768.89L465.99 761.6L460.15 752.74L454.3 742.52L448.45 730.61L442.6 717.19L436.76 702.69L430.91 687.74L425.06 673.07L419.22 658.85L413.37 645.5L407.52 633.38L401.68 622.6L395.83 613.17L389.98 605.14L384.13 598.18L378.29 592.07L372.44 586.65L366.59 581.8L360.75 577.46L354.9 573.58L349.05 570.07L343.21 566.75L337.36 563.52L331.51 560.43L325.67 557.44L319.82 554.41M496.74 781.65L490.89 777.51L485.05 772.86L479.2 767.1L473.36 759.93L467.51 751.29L461.67 741.15L455.82 729.19L449.98 715.76L444.13 701.26L438.29 686.17L432.44 671.11L426.6 656.44L420.75 642.61L414.91 630.04L409.06 618.82L403.22 608.96L397.37 600.54L391.53 593.22L385.68 586.79L379.84 581.11L373.99 576.05L368.15 571.53L362.3 567.47L356.46 563.79L350.61 560.35L344.77 557.08L338.92 553.94L333.08 550.97L327.23 547.93M504.1 779.51L498.26 775.61L492.41 771.13L486.57 765.45L480.73 758.38L474.88 749.84L469.04 739.69L463.2 727.84L457.35 714.51L451.51 700.04L445.67 684.66L439.82 669.13L433.98 654.04L428.14 639.8L422.29 626.92L416.45 615.38L410.61 605.15L404.76 596.26L398.92 588.52L393.08 581.71L387.23 575.75L381.39 570.45L375.55 565.7L369.7 561.44L363.86 557.6L358.02 554.08L352.17 550.79L346.33 547.68L340.49 544.7L334.64 541.61M511.46 777.16L505.62 773.45L499.78 769.3L493.94 763.76L488.09 756.84L482.25 748.41L476.41 738.36L470.57 726.65L464.73 713.45L458.89 698.96L453.04 683.06L447.2 667.15L441.36 651.77L435.52 637.26L429.68 624.03L423.84 612.12L417.99 601.47L412.15 592.11L406.31 583.93L400.47 576.76L394.63 570.53L388.79 564.98L382.94 559.98L377.1 555.51L371.26 551.53L365.42 547.95L359.58 544.65L353.74 541.56L347.89 538.54L342.05 535.38M518.82 774.95L512.98 771.19L507.14 767.15L501.3 761.93L495.46 755.29L489.62 747.04L483.78 737.12L477.94 725.54L472.1 712.32L466.26 697.5L460.42 681.35L454.58 665.33L448.74 649.72L442.9 634.88L437.06 621.22L431.22 608.89L425.38 597.79L419.54 588.03L413.7 579.44L407.86 571.93L402.02 565.4L396.18 559.6L390.34 554.33L384.5 549.66L378.66 545.56L372.82 541.92L366.98 538.61L361.14 535.5L355.3 532.43L349.46 529.17M526.18 772.86L520.34 769.06L514.5 765.09L508.67 760.14L502.83 753.74L496.99 745.67L491.15 735.92L485.31 724.46L479.48 711.2L473.64 696.29L467.8 680.23L461.96 663.92L456.12 647.88L450.29 632.56L444.45 618.4L438.61 605.56L432.77 594.08L426.93 583.99L421.1 575.03L415.26 567.11L409.42 560.23L403.58 554.21L397.74 548.76L391.9 543.95L386.07 539.74L380.23 536.04L374.39 532.67L368.55 529.5L362.71 526.37L356.88 523.03M533.54 771.03L527.7 767.15L521.87 763.21L516.03 758.37L510.19 752.14L504.36 744.26L498.52 734.64L492.69 723.32L486.85 710.06L481.01 695.2L475.18 679.22L469.34 662.74L463.5 646.24L457.67 630.35L451.83 615.73L446 602.37L440.16 590.47L434.32 580.01L428.49 570.71L422.65 562.39L416.81 555.19L410.98 549.01L405.14 543.48L399.31 538.51L393.47 534.13L387.63 530.36L381.8 526.86L375.96 523.55L370.12 520.35L364.29 516.93M540.9 769.36L535.07 765.4L529.23 761.28L523.4 756.39L517.56 750.17L511.73 742.48L505.89 733.07L500.06 721.71L494.22 708.4L488.39 693.67L482.56 677.8L476.72 661.38L470.89 644.65L465.05 628.51L459.22 613.49L453.38 599.59L447.55 587.26L441.71 576.36L435.88 566.62L430.04 558.09L424.21 550.59L418.38 544.34L412.54 538.68L406.71 533.52L400.87 528.87L395.04 524.98L389.2 521.22L383.37 517.66L377.53 514.31L371.7 510.78" stroke="#00fb00" stroke-width="2.0" fill="none" stroke-linejoin="round" stroke-linecap="round"/>
<path d="M320.1 832.28L327.46 830.42L334.82 828.37L342.18 826.09L349.54 823.8L356.9 821.57L364.26 819.53L371.62 818.13L378.98 816.71L386.34 814.6L393.7 812.31L401.06 810.26L408.42 808.47L415.78 806.63L423.14 804.39L430.5 801.28L437.86 798.8L445.22 796.65L452.58 794.57L459.94 792.39L467.3 789.96L474.66 787.43L482.02 785.34L489.38 783.49L496.74 781.65L504.1 779.51L511.46 777.16L518.82 774.95L526.18 772.86L533.54 771.03L540.9 769.36M314.21 827.75L321.57 825.86L328.94 823.81L336.3 821.65L343.66 819.35L351.02 816.9L358.38 814.67L365.74 812.85L373.11 811.08L380.47 809L387.83 806.81L395.19 804.84L402.55 803.01L409.92 801.06L417.28 798.79L424.64 796.14L432 793.75L439.36 791.73L446.72 789.86L454.09 787.97L461.45 785.86L468.81 783.43L476.17 781.25L483.53 779.32L490.89 777.51L498.26 775.61L505.62 773.45L512.98 771.19L520.34 769.06L527.7 767.15L535.07 765.4M308.32 822.78L315.69 820.76L323.05 818.65L330.41 816.47L337.78 814.19L345.14 811.66L352.51 809.21L359.87 807L367.23 804.89L374.6 802.73L381.96 800.6L389.32 798.62L396.69 796.72L404.05 794.79L411.41 792.7L418.78 790.43L426.14 788.26L433.5 786.34L440.87 784.61L448.23 782.87L455.6 780.96L462.96 778.83L470.32 776.67L477.69 774.67L485.05 772.86L492.41 771.13L499.78 769.3L507.14 767.15L514.5 765.09L521.87 763.21L529.23 761.28M302.44 817.14L309.8 814.97L317.17 812.73L324.53 810.41L331.9 807.99L339.26 805.43L346.63 802.88L353.99 800.42L361.36 798.04L368.72 795.74L376.09 793.53L383.46 791.49L390.82 789.59L398.19 787.76L405.55 785.88L412.92 783.85L420.28 781.84L427.65 780.03L435.01 778.4L442.38 776.67L449.74 774.81L457.11 772.9L464.47 770.87L471.84 768.89L479.2 767.1L486.57 765.45L493.94 763.76L501.3 761.93L508.67 760.14L516.03 758.37L523.4 756.39M296.55 810.88L303.92 808.54L311.28 806.1L318.65 803.59L326.02 800.99L333.38 798.35L340.75 795.7L348.12 793.03L355.49 790.44L362.85 787.94L370.22 785.57L377.59 783.42L384.95 781.48L392.32 779.72L399.69 778.01L407.06 776.07L414.42 774.15L421.79 772.43L429.16 770.86L436.52 769L443.89 767.15L451.26 765.33L458.63 763.46L465.99 761.6L473.36 759.93L480.73 758.38L488.09 756.84L495.46 755.29L502.83 753.74L510.19 752.14L517.56 750.17M290.66 804.25L298.03 801.63L305.4 798.92L312.77 796.14L320.14 793.33L327.5 790.5L334.87 787.67L342.24 784.85L349.61 782.07L356.98 779.32L364.35 776.72L371.72 774.37L379.09 772.3L386.46 770.45L393.83 768.69L401.19 766.84L408.56 764.96L415.93 763.18L423.3 761.44L430.67 759.62L438.04 757.91L445.41 756.2L452.78 754.45L460.15 752.74L467.51 751.29L474.88 749.84L482.25 748.41L489.62 747.04L496.99 745.67L504.36 744.26L511.73 742.48M284.77 797.23L292.14 794.32L299.51 791.29L306.88 788.21L314.26 785.12L321.63 782.05L329 779.02L336.37 776.03L343.74 773.01L351.11 769.93L358.48 767.02L365.85 764.42L373.22 762.14L380.59 760.1L387.96 758.18L395.33 756.28L402.7 754.36L410.07 752.47L417.44 750.62L424.82 748.88L432.19 747.27L439.56 745.66L446.93 744.03L454.3 742.52L461.67 741.15L469.04 739.69L476.41 738.36L483.78 737.12L491.15 735.92L498.52 734.64L505.89 733.07M278.88 789.91L286.26 786.68L293.63 783.32L301 779.93L308.37 776.54L315.75 773.19L323.12 769.87L330.49 766.58L337.86 763.26L345.24 759.82L352.61 756.61L359.98 753.77L367.35 751.25L374.73 748.96L382.1 746.82L389.47 744.74L396.84 742.67L404.22 740.63L411.59 738.63L418.96 736.83L426.33 735.26L433.71 733.75L441.08 732.15L448.45 730.61L455.82 729.19L463.2 727.84L470.57 726.65L477.94 725.54L485.31 724.46L492.69 723.32L500.06 721.71M273 782.21L280.37 778.76L287.75 775.17L295.12 771.49L302.49 767.8L309.87 764.14L317.24 760.48L324.62 756.8L331.99 753.05L339.36 749.26L346.74 745.82L354.11 742.73L361.49 739.94L368.86 737.39L376.24 734.96L383.61 732.6L390.98 730.26L398.36 727.95L405.73 725.65L413.11 723.66L420.48 722.03L427.86 720.54L435.23 718.85L442.6 717.19L449.98 715.76L457.35 714.51L464.73 713.45L472.1 712.32L479.48 711.2L486.85 710.06L494.22 708.4M267.11 774.76L274.48 770.96L281.86 767.16L289.24 763.19L296.61 759.19L303.99 755.2L311.36 751.2L318.74 747.15L326.12 743.04L333.49 738.97L340.87 735.16L348.25 731.72L355.62 728.61L363 725.73L370.37 722.98L377.75 720.26L385.13 717.54L392.5 714.8L399.88 712.1L407.25 709.83L414.63 708L422.01 706.26L429.38 704.41L436.76 702.69L444.13 701.26L451.51 700.04L458.89 698.96L466.26 697.5L473.64 696.29L481.01 695.2L488.39 693.67M261.22 768.25L268.6 763.99L275.98 759.76L283.35 755.38L290.73 751L298.11 746.68L305.49 742.35L312.87 737.97L320.24 733.55L327.62 729.17L335 724.97L342.38 721.1L349.75 717.63L357.13 714.37L364.51 711.24L371.89 708.16L379.27 705.05L386.64 701.9L394.02 698.82L401.4 696.11L408.78 693.95L416.15 691.8L423.53 689.67L430.91 687.74L438.29 686.17L445.67 684.66L453.04 683.06L460.42 681.35L467.8 680.23L475.18 679.22L482.56 677.8M255.33 762.96L262.71 758.19L270.09 753.37L277.47 748.41L284.85 743.58L292.23 738.88L299.61 734.19L306.99 729.47L314.37 724.74L321.75 720.06L329.13 715.51L336.51 711.25L343.89 707.28L351.27 703.58L358.65 700.07L366.03 696.63L373.41 693.17L380.79 689.69L388.17 686.31L395.55 683.25L402.92 680.45L410.3 677.72L417.68 675.25L425.06 673.07L432.44 671.11L439.82 669.13L447.2 667.15L454.58 665.33L461.96 663.92L469.34 662.74L476.72 661.38M249.44 758.67L256.83 753.42L264.21 748.01L271.59 742.54L278.97 737.17L286.35 731.97L293.73 726.87L301.11 721.79L308.5 716.74L315.88 711.74L323.26 706.86L330.64 702.18L338.02 697.73L345.4 693.59L352.78 689.74L360.17 685.96L367.55 682.14L374.93 678.32L382.31 674.57L389.69 670.98L397.07 667.5L404.45 664.26L411.84 661.41L419.22 658.85L426.6 656.44L433.98 654.04L441.36 651.77L448.74 649.72L456.12 647.88L463.5 646.24L470.89 644.65M243.56 754.57L250.94 749.14L258.32 743.36L265.71 737.49L273.09 731.67L280.47 725.97L287.86 720.43L295.24 714.98L302.62 709.59L310.01 704.26L317.39 699.06L324.77 694.02L332.15 689.19L339.54 684.64L346.92 680.46L354.3 676.28L361.69 672.06L369.07 667.86L376.45 663.72L383.84 659.64L391.22 655.64L398.6 651.86L405.99 648.53L413.37 645.5L420.75 642.61L428.14 639.8L435.52 637.26L442.9 634.88L450.29 632.56L457.67 630.35L465.05 628.51M237.67 750.78L245.05 745.08L252.44 739.13L259.82 733.03L267.21 726.88L274.59 720.8L281.98 714.86L289.36 709.05L296.75 703.28L304.13 697.62L311.52 692.12L318.9 686.81L326.29 681.71L333.67 676.89L341.06 672.29L348.44 667.6L355.83 662.96L363.21 658.4L370.6 653.91L377.98 649.46L385.37 645.07L392.75 640.85L400.14 636.95L407.52 633.38L414.91 630.04L422.29 626.92L429.68 624.03L437.06 621.22L444.45 618.4L451.83 615.73L459.22 613.49M231.78 747.26L239.17 741.36L246.55 735.29L253.94 729.02L261.33 722.67L268.71 716.35L276.1 710.12L283.49 703.91L290.87 697.75L298.26 691.77L305.65 686.01L313.03 680.45L320.42 675.1L327.81 669.94L335.2 664.87L342.58 659.79L349.97 654.81L357.36 650L364.74 645.25L372.13 640.49L379.52 635.76L386.9 631.13L394.29 626.72L401.68 622.6L409.06 618.82L416.45 615.38L423.84 612.12L431.22 608.89L438.61 605.56L446 602.37L453.38 599.59M225.89 744L233.28 737.94L240.67 731.74L248.06 725.38L255.45 718.95L262.84 712.48L270.22 705.95L277.61 699.38L285 692.9L292.39 686.65L299.78 680.67L307.17 674.89L314.56 669.27L321.94 663.77L329.33 658.32L336.72 652.91L344.11 647.67L351.5 642.69L358.89 637.75L366.27 632.73L373.66 627.66L381.05 622.65L388.44 617.79L395.83 613.17L403.22 608.96L410.61 605.15L417.99 601.47L425.38 597.79L432.77 594.08L440.16 590.47L447.55 587.26M220.01 740.95L227.4 734.8L234.79 728.55L242.18 722.17L249.57 715.7L256.96 709.09L264.35 702.37L271.74 695.55L279.13 688.76L286.52 682.25L293.91 676.07L301.3 670.1L308.69 664.23L316.08 658.45L323.47 652.74L330.86 647.13L338.25 641.69L345.64 636.56L353.03 631.4L360.42 626.07L367.81 620.67L375.2 615.31L382.59 610.1L389.98 605.14L397.37 600.54L404.76 596.26L412.15 592.11L419.54 588.03L426.93 583.99L434.32 580.01L441.71 576.36M214.12 738.17L221.51 731.97L228.9 725.67L236.29 719.27L243.69 712.76L251.08 706.13L258.47 699.36L265.86 692.38L273.25 685.36L280.65 678.57L288.04 672.22L295.43 666.02L302.82 659.91L310.21 653.9L317.61 648.02L325 642.29L332.39 636.79L339.78 631.49L347.17 626.02L354.57 620.33L361.96 614.59L369.35 608.93L376.74 603.44L384.13 598.18L391.53 593.22L398.92 588.52L406.31 583.93L413.7 579.44L421.1 575.03L428.49 570.71L435.88 566.62M208.23 735.73L215.62 729.41L223.02 723.04L230.41 716.6L237.8 710.09L245.2 703.5L252.59 696.74L259.99 689.66L267.38 682.51L274.77 675.6L282.17 669L289.56 662.53L296.96 656.16L304.35 649.94L311.74 643.9L319.14 638.05L326.53 632.4L333.92 626.87L341.32 621.19L348.71 615.2L356.11 609.21L363.5 603.32L370.89 597.58L378.29 592.07L385.68 586.79L393.08 581.71L400.47 576.76L407.86 571.93L415.26 567.11L422.65 562.39L430.04 558.09M202.34 733.36L209.74 726.97L217.13 720.52L224.53 714.02L231.92 707.47L239.32 700.86L246.72 694.09L254.11 687.01L261.51 679.79L268.9 672.77L276.3 666L283.69 659.33L291.09 652.76L298.48 646.37L305.88 640.17L313.28 634.16L320.67 628.29L328.07 622.48L335.46 616.54L342.86 610.45L350.25 604.35L357.65 598.29L365.05 592.38L372.44 586.65L379.84 581.11L387.23 575.75L394.63 570.53L402.02 565.4L409.42 560.23L416.81 555.19L424.21 550.59M196.45 731.04L203.85 724.56L211.25 718.03L218.65 711.44L226.04 704.8L233.44 698.09L240.84 691.22L248.24 684.14L255.63 676.93L263.03 669.87L270.43 663L277.82 656.23L285.22 649.57L292.62 643.07L300.02 636.73L307.41 630.54L314.81 624.46L322.21 618.41L329.61 612.31L337 606.14L344.4 599.94L351.8 593.76L359.2 587.7L366.59 581.8L373.99 576.05L381.39 570.45L388.79 564.98L396.18 559.6L403.58 554.21L410.98 549.01L418.38 544.34M190.57 728.74L197.96 722.17L205.36 715.53L212.76 708.84L220.16 702.09L227.56 695.26L234.96 688.29L242.36 681.17L249.76 673.98L257.16 666.98L264.56 660.12L271.96 653.32L279.36 646.59L286.76 639.98L294.15 633.51L301.55 627.16L308.95 620.91L316.35 614.69L323.75 608.46L331.15 602.2L338.55 595.9L345.95 589.63L353.35 583.49L360.75 577.46L368.15 571.53L375.55 565.7L382.94 559.98L390.34 554.33L397.74 548.76L405.14 543.48L412.54 538.68M184.68 726.41L192.08 719.74L199.48 713L206.88 706.21L214.28 699.37L221.68 692.45L229.08 685.44L236.48 678.34L243.89 671.24L251.29 664.27L258.69 657.43L266.09 650.6L273.49 643.81L280.89 637.09L288.29 630.48L295.69 624.01L303.09 617.63L310.49 611.3L317.9 604.96L325.3 598.61L332.7 592.23L340.1 585.89L347.5 579.73L354.9 573.58L362.3 567.47L369.7 561.44L377.1 555.51L384.5 549.66L391.9 543.95L399.31 538.51L406.71 533.52M178.79 724.05L186.19 717.28L193.6 710.45L201 703.58L208.4 696.67L215.8 689.71L223.21 682.7L230.61 675.66L238.01 668.66L245.41 661.76L252.82 654.91L260.22 648.03L267.62 641.17L275.03 634.35L282.43 627.63L289.83 621.06L297.23 614.59L304.64 608.18L312.04 601.78L319.44 595.37L326.84 588.97L334.25 582.63L341.65 576.38L349.05 570.07L356.46 563.79L363.86 557.6L371.26 551.53L378.66 545.56L386.07 539.74L393.47 534.13L400.87 528.87M172.9 721.68L180.31 714.81L187.71 707.9L195.12 700.96L202.52 694L209.92 687.02L217.33 680.03L224.73 673.05L232.14 666.1L239.54 659.23L246.95 652.39L254.35 645.52L261.76 638.62L269.16 631.74L276.57 624.95L283.97 618.3L291.37 611.78L298.78 605.31L306.18 598.85L313.59 592.39L320.99 585.95L328.4 579.55L335.8 573.17L343.21 566.75L350.61 560.35L358.02 554.08L365.42 547.95L372.82 541.92L380.23 536.04L387.63 530.36L395.04 524.98M167.01 719.31L174.42 712.34L181.83 705.35L189.23 698.36L196.64 691.37L204.05 684.39L211.45 677.4L218.86 670.44L226.26 663.53L233.67 656.66L241.08 649.83L248.48 642.98L255.89 636.09L263.3 629.21L270.7 622.4L278.11 615.71L285.51 609.14L292.92 602.62L300.33 596.11L307.73 589.59L315.14 583.06L322.55 576.54L329.95 570.04L337.36 563.52L344.77 557.08L352.17 550.79L359.58 544.65L366.98 538.61L374.39 532.67L381.8 526.86L389.2 521.22M161.13 716.93L168.53 709.87L175.94 702.81L183.35 695.79L190.76 688.78L198.17 681.79L205.57 674.8L212.98 667.84L220.39 660.92L227.8 654.05L235.21 647.22L242.62 640.39L250.02 633.54L257.43 626.68L264.84 619.89L272.25 613.2L279.66 606.6L287.06 600.03L294.47 593.47L301.88 586.87L309.29 580.24L316.7 573.62L324.1 567.01L331.51 560.43L338.92 553.94L346.33 547.68L353.74 541.56L361.14 535.5L368.55 529.5L375.96 523.55L383.37 517.66M155.24 714.58L162.65 707.43L170.06 700.32L177.47 693.26L184.88 686.25L192.29 679.24L199.7 672.24L207.11 665.25L214.52 658.31L221.93 651.42L229.34 644.58L236.75 637.75L244.16 630.92L251.57 624.1L258.98 617.36L266.39 610.68L273.8 604.05L281.21 597.47L288.62 590.86L296.03 584.16L303.44 577.43L310.85 570.71L318.26 564.04L325.67 557.44L333.08 550.97L340.49 544.7L347.89 538.54L355.3 532.43L362.71 526.37L370.12 520.35L377.53 514.31M149.35 712.34L156.76 705.11L164.17 697.93L171.58 690.83L179 683.79L186.41 676.75L193.82 669.71L201.23 662.69L208.64 655.71L216.06 648.8L223.47 641.94L230.88 635.1L238.29 628.28L245.7 621.49L253.11 614.75L260.52 608.06L267.94 601.43L275.35 594.82L282.76 588.15L290.17 581.35L297.58 574.53L305 567.74L312.41 561.02L319.82 554.41L327.23 547.93L334.64 541.61L342.05 535.38L349.46 529.17L356.88 523.03L364.29 516.93L371.7 510.78" stroke="#fb0000" stroke-width="2.05" fill="none" stroke-linejoin="round" stroke-linecap="butt"/>
<g font-family='"Liberation Serif", "DejaVu Serif", serif' font-weight="bold" font-size="15" fill="#000">
<text x="295.4" y="876.4" text-anchor="end">0</text>
<text x="242.4" y="853.75" text-anchor="end">100</text>
<text x="189.4" y="831.1" text-anchor="end">200</text>
<text x="136.4" y="808.45" text-anchor="end">300</text>
<text x="83.4" y="785.8" text-anchor="end">400</text>
<text x="316" y="877.5">300</text>
<text x="385.48" y="860.23">310</text>
<text x="454.95" y="842.95">320</text>
<text x="524.42" y="825.67">330</text>
<text x="593.9" y="808.4">340</text>
<text x="83.4" y="770.1" text-anchor="end">0</text>
<text x="83.43" y="720.6" text-anchor="end">0.2</text>
<text x="83.45" y="671.1" text-anchor="end">0.4</text>
<text x="83.47" y="621.6" text-anchor="end">0.6</text>
<text x="83.5" y="572.1" text-anchor="end">0.8</text>
</g>
<text x="106.8" y="883.6" font-family='"Liberation Serif", "DejaVu Serif", serif' font-weight="bold" font-size="14.4" textLength="90.8" lengthAdjust="spacing">Pressure (bar)</text>
<text x="430" y="888.6" font-family='"Liberation Serif", "DejaVu Serif", serif' font-weight="bold" font-size="13.7" textLength="99.8" lengthAdjust="spacing">Temperature (K)</text>
<text transform="translate(53.6 670.8) rotate(-90)" text-anchor="middle" font-family='"Liberation Serif", "DejaVu Serif", serif' font-weight="bold" font-size="14.5" textLength="88.4" lengthAdjust="spacing">Solubility (g/l)</text>
<text x="255.8" y="929.4" font-family='"Liberation Serif", "DejaVu Serif", serif' font-weight="bold" font-size="19.5" xml:space="preserve">(b)<tspan x="286.3" font-style="italic" textLength="106.2" lengthAdjust="spacingAndGlyphs">Galantamine</tspan></text>
</g>
</svg></body></html>
